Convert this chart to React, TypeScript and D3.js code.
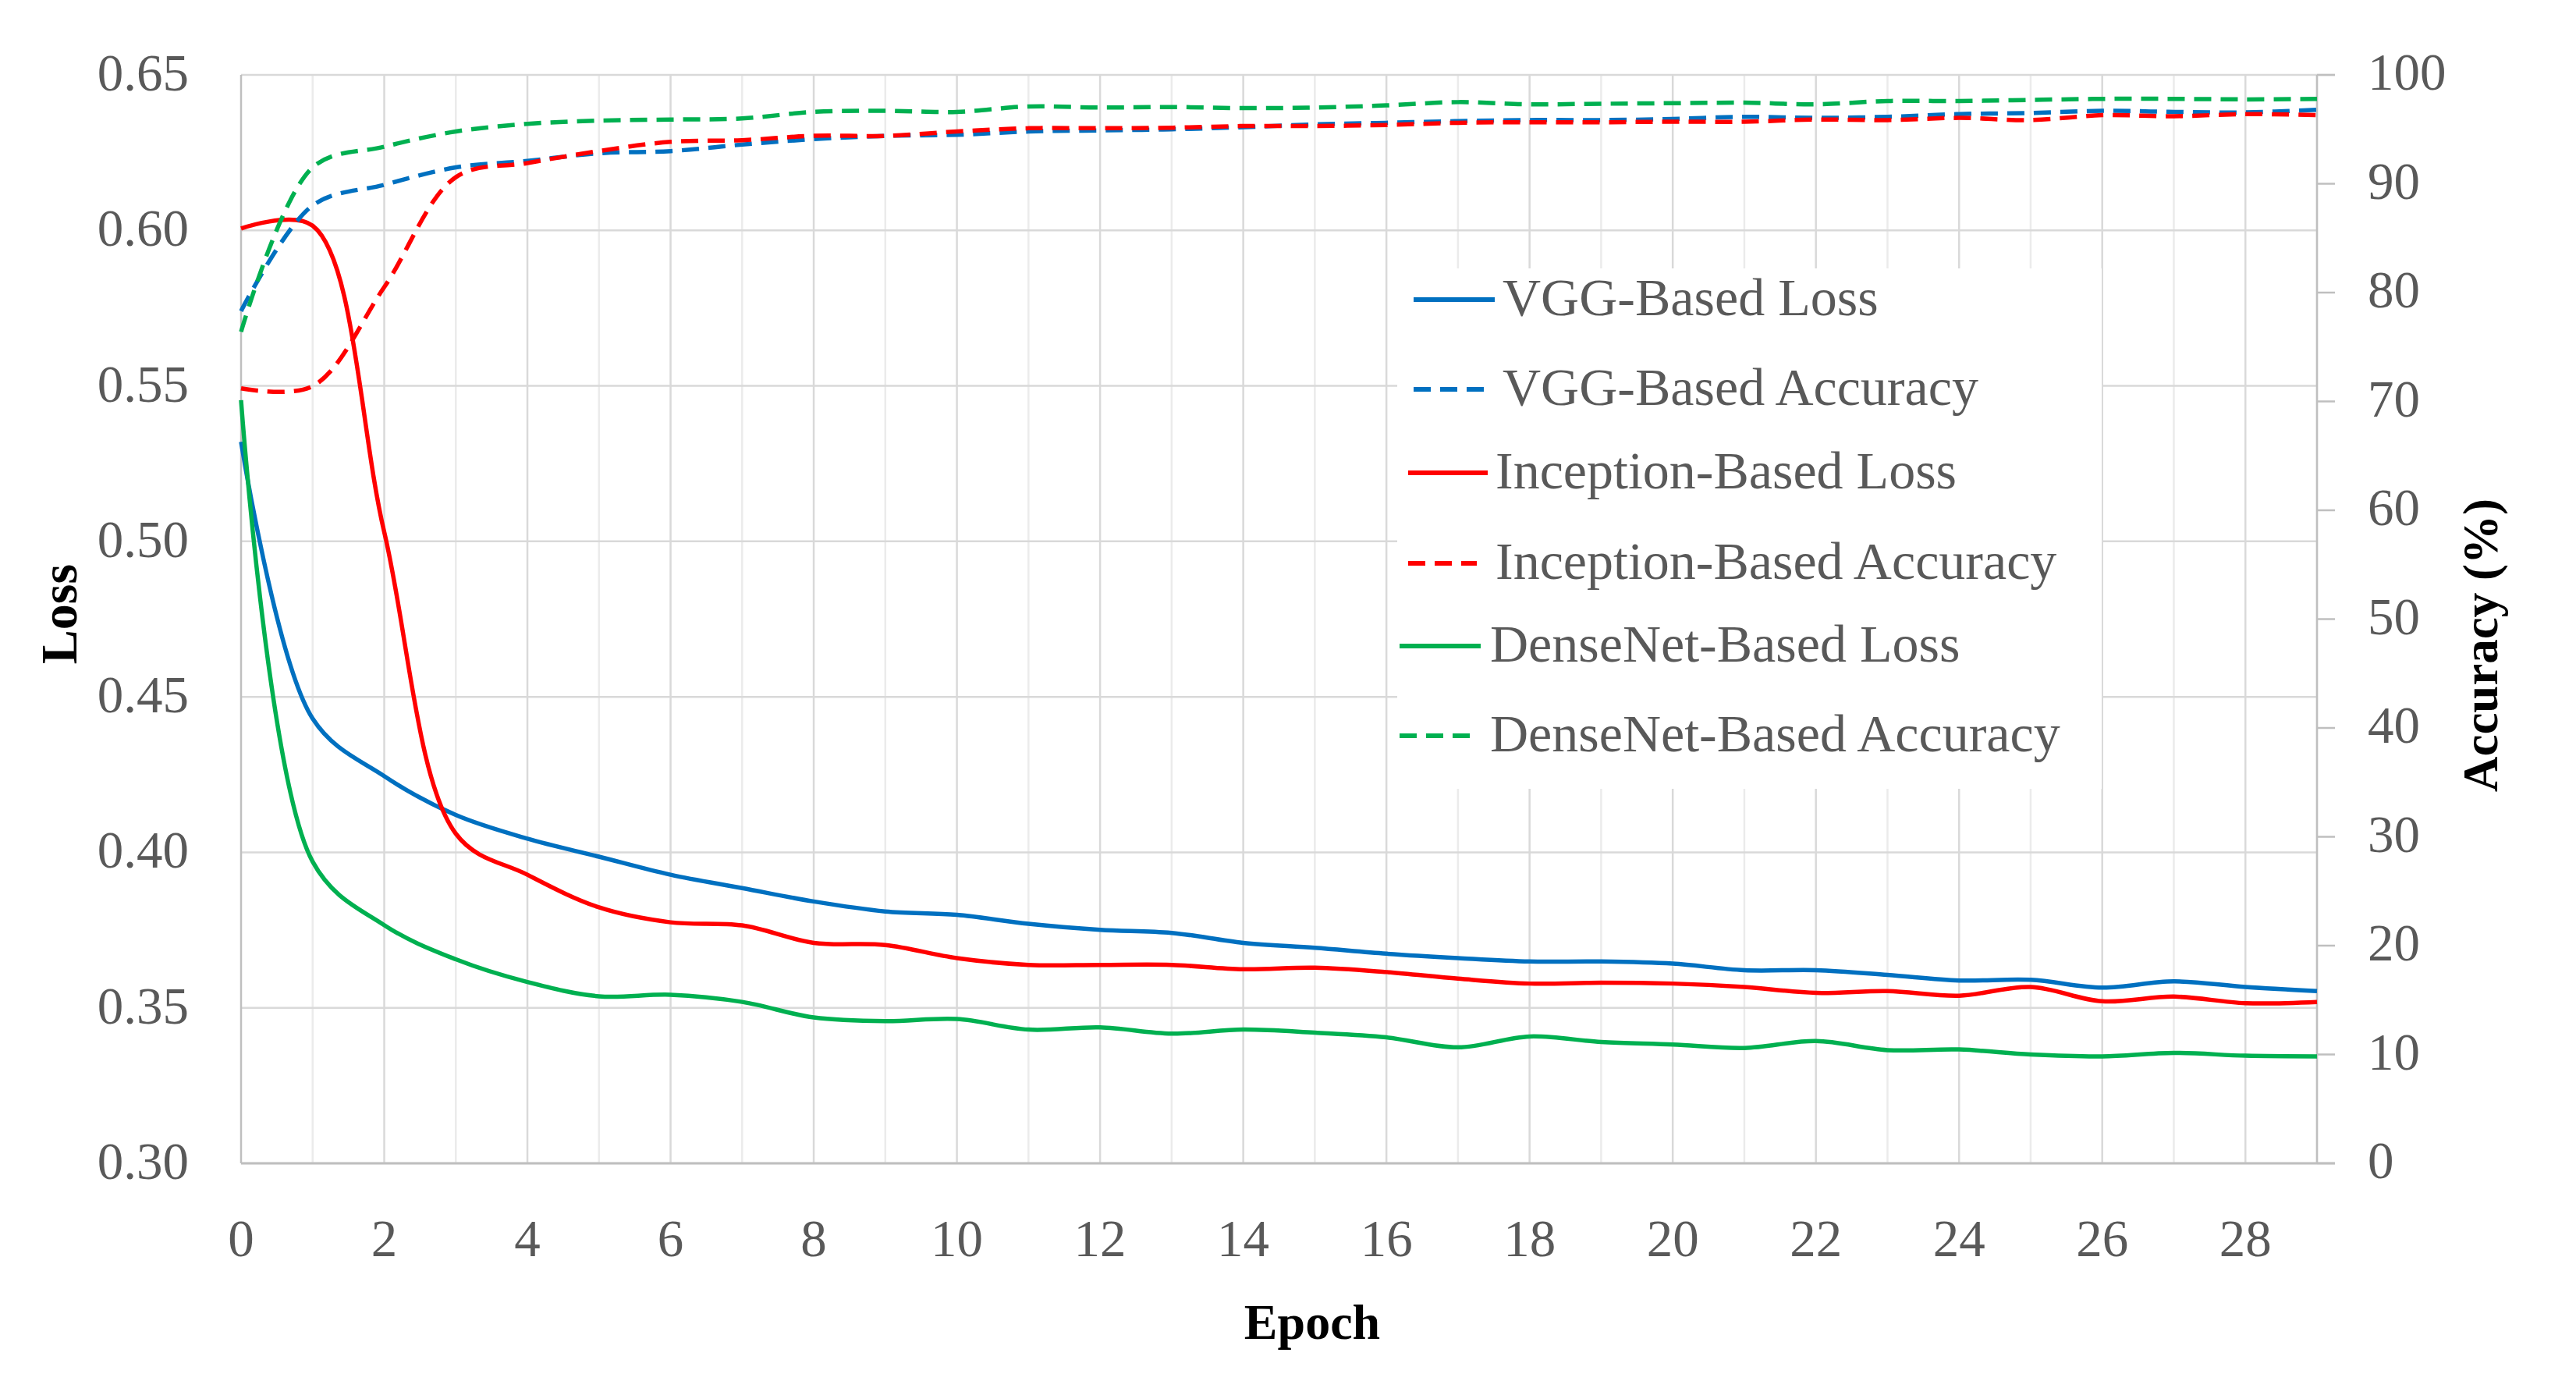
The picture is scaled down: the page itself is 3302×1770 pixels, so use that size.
import React from "react";
import * as d3 from "d3";

const epochs = [0,1,2,3,4,5,6,7,8,9,10,11,12,13,14,15,16,17,18,19,20,21,22,23,24,25,26,27,28,29];

const vggLoss = [0.532,0.443,0.4245,0.412,0.4044,0.3986,0.3928,0.3885,0.3842,0.381,0.3799,0.377,0.3751,0.3741,0.3709,0.3693,0.3674,0.366,0.3649,0.3649,0.3642,0.3621,0.3621,0.3606,0.3588,0.359,0.3565,0.3585,0.3567,0.3554];
const incLoss = [0.6006,0.6015,0.503,0.406,0.3928,0.3823,0.3775,0.3765,0.3709,0.3702,0.366,0.3638,0.3638,0.3638,0.3624,0.3629,0.3615,0.3594,0.3578,0.3581,0.3578,0.3567,0.3548,0.3554,0.3539,0.3567,0.3521,0.3536,0.3515,0.3519];
const denLoss = [0.5454,0.397,0.3766,0.3656,0.3583,0.3537,0.3542,0.3519,0.3469,0.3457,0.3464,0.343,0.3437,0.3417,0.343,0.342,0.3405,0.3373,0.3408,0.339,0.3382,0.3371,0.3393,0.3364,0.3366,0.335,0.3344,0.3355,0.3346,0.3344];
const vggAcc = [78.3,88.0,89.9,91.5,92.1,92.8,93.0,93.6,94.1,94.4,94.5,94.8,94.9,95.0,95.2,95.45,95.6,95.75,95.85,95.85,95.95,96.15,96.05,96.15,96.4,96.5,96.7,96.6,96.55,96.8];
const incAcc = [71.2,71.4,80.5,90.6,91.9,93.0,93.85,94.0,94.4,94.4,94.8,95.1,95.1,95.15,95.3,95.3,95.4,95.6,95.65,95.65,95.7,95.7,95.9,95.85,96.05,95.85,96.3,96.2,96.4,96.3];
const denAcc = [76.4,91.5,93.4,94.8,95.5,95.8,95.9,96.0,96.6,96.7,96.6,97.1,97.0,97.05,96.95,97.0,97.2,97.5,97.3,97.35,97.4,97.45,97.3,97.6,97.6,97.7,97.8,97.8,97.75,97.8];

const lossTicks = [0.30,0.35,0.40,0.45,0.50,0.55,0.60,0.65];
const accTicks = [0,10,20,30,40,50,60,70,80,90,100];
const epochTicks = [0,2,4,6,8,10,12,14,16,18,20,22,24,26,28];

const BLUE = "#0070C0";
const RED = "#FF0000";
const GREEN = "#00B050";

const legendItems = [
  { label: "VGG-Based Loss", color: BLUE, dashed: false, x0: 1812, x1: 1916, tx: 1926, y: 384 },
  { label: "VGG-Based Accuracy", color: BLUE, dashed: true, x0: 1812, x1: 1902, tx: 1926, y: 499 },
  { label: "Inception-Based Loss", color: RED, dashed: false, x0: 1805, x1: 1907, tx: 1917, y: 606 },
  { label: "Inception-Based Accuracy", color: RED, dashed: true, x0: 1805, x1: 1893, tx: 1917, y: 722 },
  { label: "DenseNet-Based Loss", color: GREEN, dashed: false, x0: 1794, x1: 1898, tx: 1910, y: 828 },
  { label: "DenseNet-Based Accuracy", color: GREEN, dashed: true, x0: 1794, x1: 1884, tx: 1910, y: 943 },
];

export default function App() {
  const W = 3302, H = 1770;
  const L = 309, R = 2970, T = 96, B = 1491;
  const x = d3.scaleLinear().domain([0, 29]).range([L, R]);
  const yL = d3.scaleLinear().domain([0.30, 0.65]).range([B, T]);
  const yR = d3.scaleLinear().domain([0, 100]).range([B, T]);
  const curve = d3.curveCatmullRom.alpha(0.5);
  const lineL = d3.line<number>().x((_, i) => x(epochs[i])).y(d => yL(d)).curve(curve);
  const lineR = d3.line<number>().x((_, i) => x(epochs[i])).y(d => yR(d)).curve(curve);
  const font = "'Liberation Serif', 'Times New Roman', serif";
  const grey = "#595959";
  const series = [
    { d: lineL(vggLoss), c: BLUE, dash: false },
    { d: lineL(incLoss), c: RED, dash: false },
    { d: lineL(denLoss), c: GREEN, dash: false },
    { d: lineR(vggAcc), c: BLUE, dash: true },
    { d: lineR(incAcc), c: RED, dash: true },
    { d: lineR(denAcc), c: GREEN, dash: true },
  ];
  return (
    <svg width={W} height={H} style={{ position: "absolute", left: 0, top: 0, background: "#fff" }} fontFamily={font}>
      <rect x={0} y={0} width={W} height={H} fill="#fff" />
      {epochs.filter(e => e > 0).map(e => (
        <line key={"v" + e} x1={x(e)} x2={x(e)} y1={T} y2={B} stroke={e % 2 === 0 ? "#D9D9D9" : "#EBEBEB"} strokeWidth={2.5} />
      ))}
      {lossTicks.map(v => (
        <line key={"h" + v} x1={L} x2={v === 0.65 ? R + 23 : R} y1={yL(v)} y2={yL(v)} stroke="#D9D9D9" strokeWidth={2.5} />
      ))}
      <rect x={1791} y={344} width={903} height={667} fill="#fff" />
      <line x1={L} x2={L} y1={T} y2={B} stroke="#BFBFBF" strokeWidth={2.5} />
      <line x1={R} x2={R} y1={T} y2={B} stroke="#BFBFBF" strokeWidth={2.5} />
      <line x1={L} x2={R + 23} y1={B} y2={B} stroke="#BFBFBF" strokeWidth={3} />
      {accTicks.map(v => (
        <line key={"rt" + v} x1={R} x2={R + 23} y1={yR(v)} y2={yR(v)} stroke="#BFBFBF" strokeWidth={2.5} />
      ))}
      {series.map((s, i) => (
        <path key={"s" + i} d={s.d || ""} fill="none" stroke={s.c} strokeWidth={5.5}
          strokeDasharray={s.dash ? "22 12" : undefined} strokeLinejoin="round" />
      ))}
      {lossTicks.map(v => (
        <text key={"lt" + v} x={242} y={yL(v) + 20} textAnchor="end" fontSize={67} fill={grey}>{v.toFixed(2)}</text>
      ))}
      {accTicks.map(v => (
        <text key={"at" + v} x={3035} y={yR(v) + 19} textAnchor="start" fontSize={67} fill={grey}>{v}</text>
      ))}
      {epochTicks.map(e => (
        <text key={"et" + e} x={x(e)} y={1610} textAnchor="middle" fontSize={67} fill={grey}>{e}</text>
      ))}
      <text x={98} y={787} transform="rotate(-90 98 787)" textAnchor="middle" fontSize={66} fontWeight="bold" fill="#000">Loss</text>
      <text x={3201} y={827} transform="rotate(-90 3201 827)" textAnchor="middle" fontSize={63} fontWeight="bold" fill="#000">Accuracy (%)</text>
      <text x={1682} y={1716} textAnchor="middle" fontSize={64} fontWeight="bold" fill="#000">Epoch</text>
      {legendItems.map((it, i) => (
        <g key={"lg" + i}>
          <line x1={it.x0} x2={it.x1} y1={it.y} y2={it.y} stroke={it.color} strokeWidth={6}
            strokeDasharray={it.dashed ? "22 12" : undefined} />
          <text x={it.tx} y={it.y + 20} fontSize={68} fill={grey}>{it.label}</text>
        </g>
      ))}
    </svg>
  );
}
